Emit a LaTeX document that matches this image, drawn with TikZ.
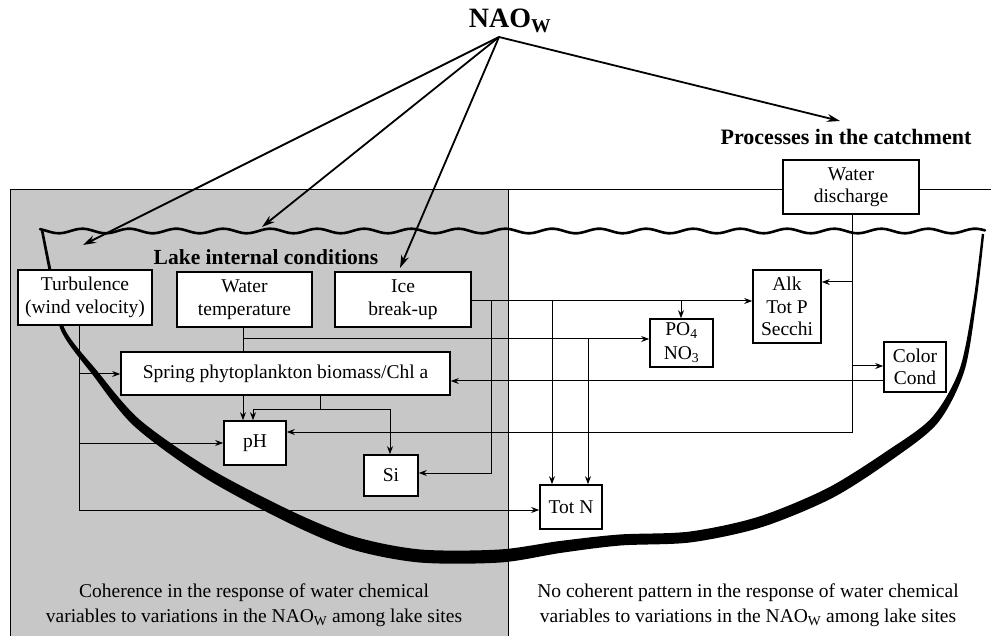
\documentclass[tikz,border=0pt]{standalone}
\usepackage{fontspec}
\setmainfont{Liberation Serif}
\usetikzlibrary{arrows.meta}
\begin{document}
\begin{tikzpicture}[x=1pt,y=-1pt,
  box/.style={draw, line width=1.6pt, fill=white, inner sep=0pt, align=center,
              font=\fontsize{19.5}{22.5}\selectfont},
  conn/.style={line width=1pt, -{Stealth[length=8pt,width=6pt]}},
  plainline/.style={line width=1pt},
  naoarrow/.style={line width=1.8pt, -{Stealth[length=13pt,width=8pt]}},
  lbl/.style={inner sep=0pt, font=\bfseries\fontsize{21.5}{24}\selectfont},
  bottomtext/.style={inner sep=0pt, align=center, font=\fontsize{19.5}{25}\selectfont}]
\useasboundingbox (0,0) rectangle (991,636);
\fill[white] (0,0) rectangle (991,636);

% grey region and catchment line
\fill[black!22] (10,190) rectangle (508,636);
\draw[line width=1pt] (10,190) -- (991,190);
\draw[line width=0.8pt] (10,636) -- (10,190);
\draw[line width=0.8pt] (508,190) -- (508,636);

% lake outline
\fill[black] plot[smooth] coordinates {(40.75,230.25) (50.5,280.3) (61.2,330.9) (92.7,374.9) (134.2,426.2) (204.3,477.5) (287.4,522.4) (351.1,549.2) (419.4,562.5) (500.4,562.5) (560.8,552.9) (620.4,545.5) (690.7,542.4) (761.7,527.2) (832.5,497.9) (892.9,459.1) (938,422.6) (964.4,370.8) (976.5,300.2) (984.2,234.1)}
  -- plot[smooth] coordinates {(981.8,233.9) (973.5,299.8) (959.6,369.2) (932,417.4) (887.1,450.9) (827.5,488.1) (758.3,516.8) (689.3,531.6) (619.6,534.5) (559.2,541.1) (499.6,549.5) (420.6,549.5) (354.9,536.8) (292.6,511.6) (209.7,468.5) (139.8,419.8) (97.3,371.1) (64.8,329.1) (53.5,279.7) (43.25,229.75)} -- cycle;
% water surface
\draw[line width=2.6pt, line cap=round] plot[domain=40:985, samples=240] (\x, {231 + 2.3*sin(\x*7.66)});

% boxes
\node[box, minimum width=134pt, minimum height=55pt] (turb) at (85,297.5) {Turbulence\\(wind velocity)};
\node[box, minimum width=135pt, minimum height=55pt] (wtemp) at (244.5,299.5) {Water\\temperature};
\node[box, minimum width=136pt, minimum height=55pt] (ice) at (403,299.5) {Ice\\break-up};
\node[box, minimum width=329pt, minimum height=43pt] (spring) at (285.5,373.5) {Spring phytoplankton biomass/Chl a};
\node[box, minimum width=62pt, minimum height=44pt] (pH) at (255,443) {pH};
\node[box, minimum width=54pt, minimum height=41pt] (si) at (391,475.5) {Si};
\node[box, minimum width=62pt, minimum height=44pt] (totn) at (571,507) {Tot N};
\node[box, minimum width=63pt, minimum height=48pt, font=\fontsize{19.5}{24}\selectfont] (po4) at (681.5,343) {PO\textsubscript{4}\\NO\textsubscript{3}};
\node[box, minimum width=68pt, minimum height=73pt] (alk) at (787,306.5) {Alk\\Tot P\\Secchi};
\node[box, minimum width=62pt, minimum height=50pt] (color) at (915,367) {Color\\Cond};
\node[box, minimum width=136pt, minimum height=54pt, font=\fontsize{19.5}{21.5}\selectfont] (wd) at (851,187) {Water\\discharge};

% guide coordinates
\coordinate (vT) at (79,0);
\coordinate (vW) at (243,0);
\coordinate (vS) at (320,0);
\coordinate (vpH) at (253,0);
\coordinate (vSi) at (390,0);
\coordinate (vI) at (491,0);
\coordinate (vN1) at (552,0);
\coordinate (vN2) at (588,0);
\coordinate (vP) at (681,0);
\coordinate (vD) at (852,0);
\coordinate (hI) at (0,301);
\coordinate (hW) at (0,339);
\coordinate (hS) at (0,409);
\coordinate (hD) at (0,432);
\coordinate (hC) at (0,381);
\coordinate (hA) at (0,282);
\coordinate (hCo) at (0,366);
\coordinate (hN) at (0,510);
\coordinate (hSp) at (0,374);
\coordinate (hpH) at (0,443);
\coordinate (hSi) at (0,473);

% connectors
\draw[conn] (turb.south -| vT) |- (totn.west |- hN);
\draw[conn] (vT |- hSp) -- (spring.west |- hSp);
\draw[conn] (vT |- hpH) -- (pH.west |- hpH);
\draw[plainline] (wtemp.south -| vW) -- (spring.north -| vW);
\draw[conn] (vW |- hW) -- (po4.west |- hW);
\draw[conn] (vN2 |- hW) -- (totn.north -| vN2);
\draw[conn] (ice.east |- hI) -- (alk.west |- hI);
\draw[conn] (vI |- hI) |- (si.east |- hSi);
\draw[conn] (vN1 |- hI) -- (totn.north -| vN1);
\draw[conn] (vP |- hI) -- (po4.north -| vP);
\draw[conn] (spring.south -| vW) -- (pH.north -| vW);
\draw[plainline] (spring.south -| vS) -- (vS |- hS);
\draw[conn] (vS |- hS) -| (pH.north -| vpH);
\draw[conn] (vS |- hS) -| (si.north -| vSi);
\draw[conn] (wd.south -| vD) |- (pH.east |- hD);
\draw[conn] (vD |- hA) -- (alk.east |- hA);
\draw[conn] (vD |- hCo) -- (color.west |- hCo);
\draw[conn] (color.west |- hC) -- (spring.east |- hC);

% labels
\node[inner sep=0pt, font=\bfseries\fontsize{28}{30}\selectfont] (nao) at (510,21) {NAO\textsubscript{W}};
\node[lbl, font=\bfseries\fontsize{22}{24}\selectfont] (catch) at (846,137) {Processes in the catchment};
\node[lbl] (lakelbl) at (266,257) {Lake internal conditions};
\node[bottomtext] (cohere) at (254,605) {Coherence in the response of water chemical\\variables to variations in the NAO\textsubscript{W} among lake sites};
\node[bottomtext] (nocohere) at (748,605) {No coherent pattern in the response of water chemical\\variables to variations in the NAO\textsubscript{W} among lake sites};

% NAO arrows
\coordinate (apex) at (499,37);
\coordinate (e1) at (83,245);
\coordinate (e2) at (262,227);
\coordinate (e3) at (400,268);
\coordinate (e4) at (840,121);
\draw[naoarrow] (apex) -- (e1);
\draw[naoarrow] (apex) -- (e2);
\draw[naoarrow] (apex) -- (e3);
\draw[naoarrow] (apex) -- (e4);
\end{tikzpicture}
\end{document}
